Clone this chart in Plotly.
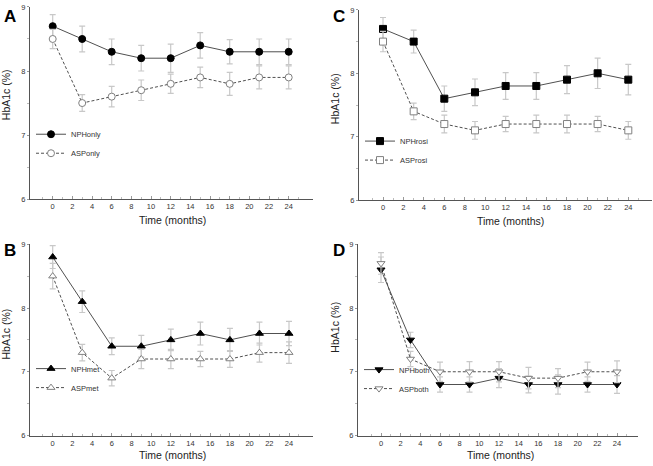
import plotly.graph_objects as go

months = [0, 3, 6, 9, 12, 15, 18, 21, 24]

# Panel A
nph_only = [8.7, 8.5, 8.3, 8.2, 8.2, 8.4, 8.3, 8.3, 8.3]
nph_only_err = [0.18, 0.2, 0.2, 0.2, 0.22, 0.2, 0.19, 0.2, 0.2]
asp_only = [8.5, 7.5, 7.6, 7.7, 7.8, 7.9, 7.8, 7.9, 7.9]
asp_only_err = [0.15, 0.13, 0.16, 0.16, 0.15, 0.16, 0.18, 0.18, 0.18]

# Panel B
nph_met = [8.8, 8.1, 7.4, 7.4, 7.5, 7.6, 7.5, 7.6, 7.6]
nph_met_err = [0.18, 0.17, 0.13, 0.17, 0.17, 0.18, 0.18, 0.18, 0.19]
asp_met = [8.5, 7.3, 6.9, 7.2, 7.2, 7.2, 7.2, 7.3, 7.3]
asp_met_err = [0.2, 0.13, 0.12, 0.15, 0.15, 0.12, 0.13, 0.15, 0.17]

# Panel C
nph_rosi = [8.7, 8.5, 7.6, 7.7, 7.8, 7.8, 7.9, 8.0, 7.9]
nph_rosi_err = [0.18, 0.18, 0.2, 0.21, 0.21, 0.21, 0.22, 0.24, 0.24]
asp_rosi = [8.5, 7.4, 7.2, 7.1, 7.2, 7.2, 7.2, 7.2, 7.1]
asp_rosi_err = [0.16, 0.13, 0.14, 0.14, 0.12, 0.14, 0.14, 0.12, 0.14]

# Panel D
nph_both = [8.6, 7.5, 6.8, 6.8, 6.9, 6.8, 6.8, 6.8, 6.8]
nph_both_err = [0.2, 0.12, 0.12, 0.12, 0.15, 0.13, 0.15, 0.12, 0.14]
asp_both = [8.7, 7.2, 7.0, 7.0, 7.0, 6.9, 6.9, 7.0, 7.0]
asp_both_err = [0.17, 0.12, 0.15, 0.16, 0.16, 0.17, 0.15, 0.15, 0.17]

x_ticks = list(range(0, 25, 2))
y_ticks = [6, 7, 8, 9]
x_title = "Time (months)"
y_title = "HbA1c (%)"

W, H = 653, 466
FONT = "Liberation Sans, Arial, sans-serif"

panels = [
    dict(letter="A", nph=nph_only, nerr=nph_only_err, asp=asp_only, aerr=asp_only_err,
         names=("NPHonly", "ASPonly"), sym=("circle", "circle"),
         xl=30, xr=313, x0=52.7, x24=288.7, y6=199, y9=3, leg=(31, 118),
         lx=(2, 1), xt=(172, 220), yt=(6, 93)),
    dict(letter="B", nph=nph_met, nerr=nph_met_err, asp=asp_met, aerr=asp_met_err,
         names=("NPHmet", "ASPmet"), sym=("triangle-up", "triangle-up"),
         xl=30, xr=313, x0=52.7, x24=289, y6=440, y9=245, leg=(31, 357),
         lx=(2, 240), xt=(172, 460), yt=(6, 337)),
    dict(letter="C", nph=nph_rosi, nerr=nph_rosi_err, asp=asp_rosi, aerr=asp_rosi_err,
         names=("NPHrosi", "ASProsi"), sym=("square", "square"),
         xl=359, xr=652, x0=383, x24=628.3, y6=200, y9=6, leg=(360, 125),
         lx=(331, 1), xt=(510, 221), yt=(335, 97)),
    dict(letter="D", nph=nph_both, nerr=nph_both_err, asp=asp_both, aerr=asp_both_err,
         names=("NPHboth", "ASPboth"), sym=("triangle-down", "triangle-down"),
         xl=358, xr=638, x0=381, x24=617, y6=440, y9=245, leg=(359, 358),
         lx=(331, 240), xt=(500, 460), yt=(335, 330)),
]

fig = go.Figure()
layout = dict(width=W, height=H, margin=dict(l=0, r=0, t=0, b=0),
              paper_bgcolor="white", plot_bgcolor="white", showlegend=True,
              font=dict(family=FONT, color="#333"))
annotations = []

line_col = "#505050"
err_col = "#c8c8c8"

for i, p in enumerate(panels):
    k = "" if i == 0 else str(i + 1)
    xa, ya = "x" + k, "y" + k
    leg = "legend" if i == 0 else "legend" + str(i + 1)
    slope = (p["x24"] - p["x0"]) / 24.0
    xmin = (p["xl"] - p["x0"]) / slope
    xmax = (p["xr"] - p["x0"]) / slope
    dx = [p["xl"] / W, p["xr"] / W]
    dy = [1 - p["y6"] / H, 1 - p["y9"] / H]

    for j, (vals, errs) in enumerate([(p["nph"], p["nerr"]), (p["asp"], p["aerr"])]):
        filled = j == 0
        fig.add_trace(go.Scatter(
            x=months, y=vals, name=p["names"][j], mode="lines+markers",
            xaxis=xa, yaxis=ya, legend=leg,
            line=dict(color=line_col, width=1, dash="solid" if filled else "3px,2px"),
            marker=dict(symbol=p["sym"][j], size=7,
                        color="black" if filled else "white",
                        line=dict(color="black" if filled else "#808080", width=1)),
            error_y=dict(type="data", array=errs, visible=True, color=err_col,
                         thickness=1.2, width=3),
        ))

    layout["xaxis" + k] = dict(
        domain=dx, range=[xmin, xmax], anchor=ya, tickvals=x_ticks,
        showgrid=False, zeroline=False, showline=True, linecolor="#555", linewidth=1,
        ticks="inside", ticklen=3, tickcolor="#999",
        minor=dict(tickvals=list(range(-1, 26, 2)), ticks="inside", ticklen=2, tickcolor="#bbb"),
        tickfont=dict(size=7.5, color="#333"),
    )
    layout["yaxis" + k] = dict(
        domain=dy, range=[6, 9], anchor=xa, tickvals=y_ticks,
        showgrid=False, zeroline=False, showline=True, linecolor="#555", linewidth=1,
        ticks="outside", ticklen=2, tickcolor="#999",
        minor=dict(tickvals=[6.5, 7.5, 8.5], ticks="outside", ticklen=2, tickcolor="#bbb"),
        tickfont=dict(size=7.5, color="#333"),
    )
    layout[leg] = dict(
        x=p["leg"][0] / W, y=1 - p["leg"][1] / H, xanchor="left", yanchor="top",
        bgcolor="rgba(0,0,0,0)", font=dict(size=7.5, color="#333"),
        tracegroupgap=0, itemwidth=30,
    )
    annotations.append(dict(
        text="<b>" + p["letter"] + "</b>", xref="paper", yref="paper",
        x=p["lx"][0] / W, y=1 - p["lx"][1] / H,
        xanchor="left", yanchor="top", showarrow=False,
        font=dict(size=17, color="black", family=FONT),
    ))
    annotations.append(dict(
        text=x_title, xref="paper", yref="paper",
        x=p["xt"][0] / W, y=1 - p["xt"][1] / H,
        xanchor="center", yanchor="middle", showarrow=False,
        font=dict(size=10.5, color="#222", family=FONT),
    ))
    annotations.append(dict(
        text=y_title, xref="paper", yref="paper", textangle=-90,
        x=p["yt"][0] / W, y=1 - p["yt"][1] / H,
        xanchor="center", yanchor="middle", showarrow=False,
        font=dict(size=10.5, color="#222", family=FONT),
    ))

layout["annotations"] = annotations
fig.update_layout(**layout)
fig.write_html(
    "out.html",
    config=dict(displayModeBar=False),
    post_script="document.body.style.margin='0';document.body.style.overflow='hidden';",
)
